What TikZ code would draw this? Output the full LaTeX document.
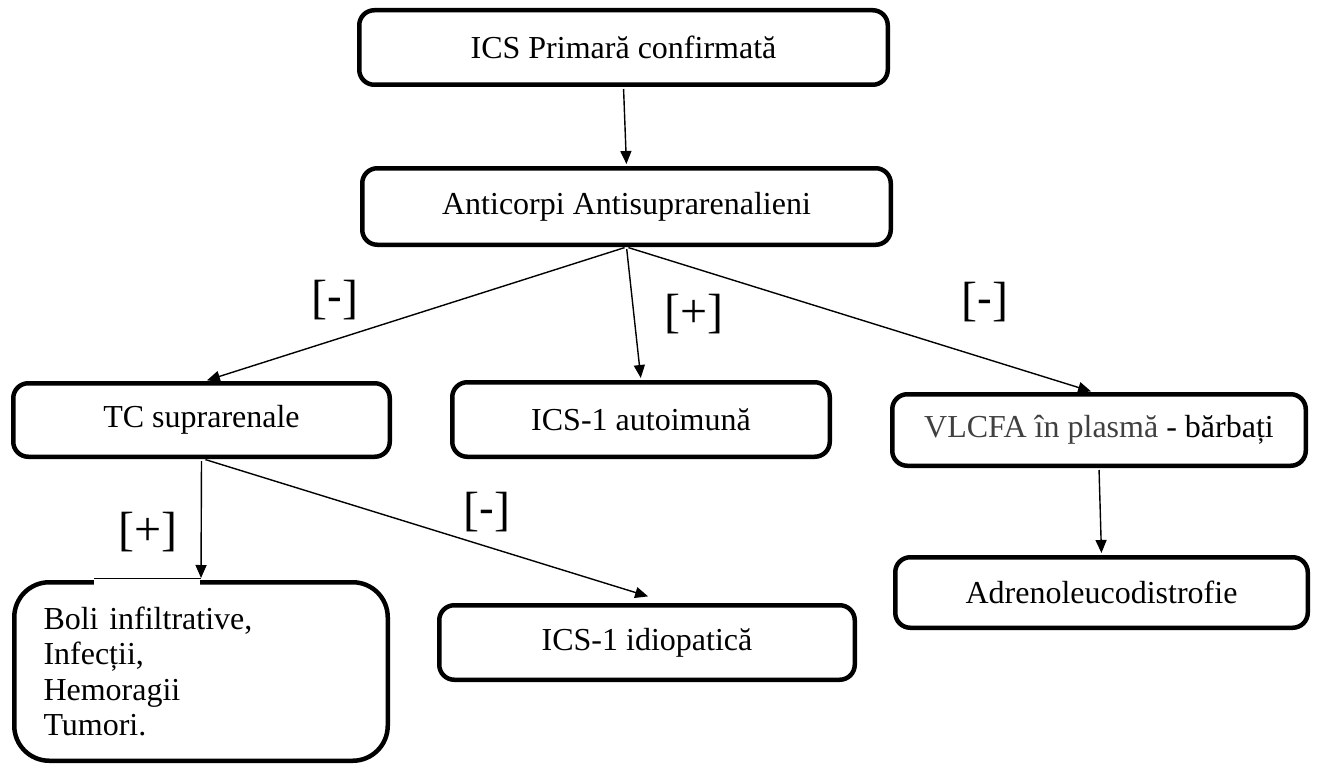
\documentclass[tikz,border=0pt]{standalone}
\usepackage{fontspec}
\setmainfont{Liberation Serif}
\newfontfamily\calib{Carlito}
\usetikzlibrary{arrows.meta,calc}
\definecolor{txtgrey}{HTML}{404040}
\begin{document}
\begin{tikzpicture}[x=1pt,y=-1pt,
  box/.style={draw, line width=4.5pt, rounded corners=15pt, font=\fontsize{32}{35.5}\selectfont, inner sep=0pt, align=center},
  arr/.style={-{Triangle[length=13pt,width=11pt]}, line width=1.4pt, shorten >=2pt, shorten <=2pt},
  lab/.style={font=\fontsize{48}{52}\selectfont, inner sep=0pt}]
\useasboundingbox (0,0) rectangle (1319,765);
\node[box, minimum width=528.5pt, minimum height=74.5pt] (b1) at (623.5,47.5) {ICS Primară confirmată};
\node[box, minimum width=528.5pt, minimum height=76.5pt] (b2) at (626.5,206.5) {Anticorpi Antisuprarenalieni};
\node[box, minimum width=376.5pt, minimum height=73.5pt] (tc) at (201.5,420) {TC suprarenale};
\node[box, minimum width=377.5pt, minimum height=74.5pt] (auto) at (641,419.5) {ICS-1 autoimună};
\node[box, minimum width=413.5pt, minimum height=71.5pt] (vl) at (1099,430) {\textcolor{txtgrey}{VLCFA în plasmă} - bărbați};
\node[box, minimum width=412.5pt, minimum height=70.5pt] (ad) at (1101.5,592.5) {Adrenoleucodistrofie};
\node[box, minimum width=415.5pt, minimum height=74.5pt] (idio) at (647,642.5) {ICS-1 idiopatică};
\node[box, rounded corners=35pt, align=left, text width=315pt, inner xsep=29.25pt, minimum width=373.5pt, minimum height=178.5pt] (boli) at (201,671.5) {\rule{0pt}{14pt}Boli infiltrative,\\Infecții,\\Hemoragii\\Tumori.};

\draw[white, line width=8pt] ($(boli.north)+(-107,2.2)$) -- ($(boli.north)+(-1,2.2)$);
\draw[line width=1.3pt] ($(boli.north)+(-107,-1.6)$) -- ($(boli.north)+(0,-1.6)$);

\draw[arr] (b1.south) -- (b2.north);
\draw[arr] (b2.south) -- ($(tc.north)+(3.5,0)$);
\draw[arr] (b2.south) -- (auto.north);
\draw[arr] (b2.south) -- ($(vl.north)+(-6,0)$);
\draw[arr] (vl.south) -- (ad.north);
\draw[arr] (tc.south) -- (boli.north);
\draw[arr] ($(tc.south)+(2,0)$) -- ($(idio.north)+(3,-6)$);

\node[lab] (l1) at (335,300) {[{\calib-}]};
\node[lab] (l2) at (694,314) {[+]};
\node[lab] (l3) at (985,302) {[{\calib-}]};
\node[lab] (l4) at (148,532) {[+]};
\node[lab] (l5) at (487,512) {[{\calib-}]};
\end{tikzpicture}
\end{document}
